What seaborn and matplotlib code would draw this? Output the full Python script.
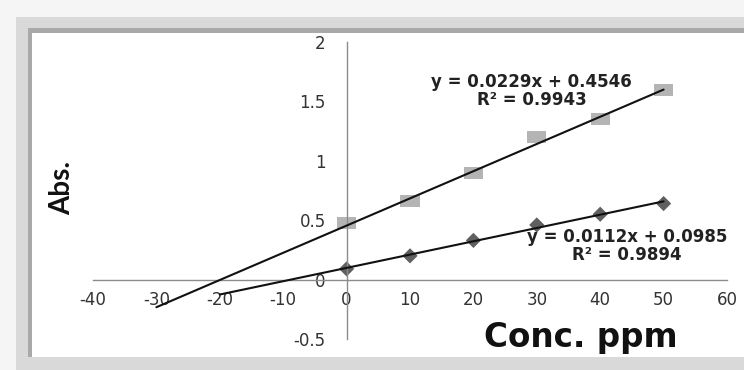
import matplotlib
matplotlib.use("Agg")
import matplotlib.pyplot as plt
from matplotlib.patches import Rectangle, Path
import numpy as np
import pandas as pd
import seaborn as sns

# ---- data ----
conc = [0, 10, 20, 30, 40, 50]
abs_upper = [0.48, 0.66, 0.90, 1.20, 1.35, 1.60]   # square markers
abs_lower = [0.09, 0.20, 0.33, 0.46, 0.55, 0.64]   # diamond markers
slope_upper, icpt_upper = 0.0229, 0.4546
slope_lower, icpt_lower = 0.0112, 0.0985
trend_upper_x = [-30, 50]
trend_lower_x = [-20, 50]
eq_upper = ["y = 0.0229x + 0.4546", "R² = 0.9943"]
eq_lower = ["y = 0.0112x + 0.0985", "R² = 0.9894"]
xticks = [-40, -30, -20, -10, 0, 10, 20, 30, 40, 50, 60]
yticks = [-0.5, 0, 0.5, 1, 1.5, 2]
ytick_labels = ["-0.5", "0", "0.5", "1", "1.5", "2"]

sns.set_style("white")
plt.rcParams["axes.unicode_minus"] = False
plt.rcParams["font.family"] = ["DejaVu Sans"]

W, H = 744, 370
fig = plt.figure(figsize=(W / 100, H / 100), dpi=100)
fig.patch.set_facecolor("#f5f5f5")

def prect(x0, y0, x1, y1, color):
    # pixel coords with origin top-left
    r = Rectangle((x0 / W, 1 - y1 / H), (x1 - x0) / W, (y1 - y0) / H,
                  transform=fig.transFigure, facecolor=color,
                  edgecolor="none", zorder=-10)
    fig.patches.append(r)

prect(16, 17, 744, 370, "#d9d9d9")
prect(28, 28, 744, 357, "#a9a9a9")
prect(32, 33, 744, 357, "white")

ax = fig.add_axes([93 / W, 1 - 339 / H, (727 - 93) / W, (339 - 42) / H])
ax.set_facecolor("none")
ax.set_zorder(5)

df_u = pd.DataFrame({"conc": conc, "abs": abs_upper})
df_l = pd.DataFrame({"conc": conc, "abs": abs_lower})
tu = pd.DataFrame({"x": trend_upper_x,
                   "y": [slope_upper * v + icpt_upper for v in trend_upper_x]})
tl = pd.DataFrame({"x": trend_lower_x,
                   "y": [slope_lower * v + icpt_lower for v in trend_lower_x]})

rect_marker = Path([(-1.6, -1), (1.6, -1), (1.6, 1), (-1.6, 1), (-1.6, -1)],
                   [Path.MOVETO, Path.LINETO, Path.LINETO, Path.LINETO, Path.CLOSEPOLY])

sns.scatterplot(data=df_u, x="conc", y="abs", ax=ax, marker=rect_marker, s=190,
                color="#b4b4b4", edgecolor="none", zorder=2)
sns.scatterplot(data=df_l, x="conc", y="abs", ax=ax, marker="D", s=60,
                color="#606060", edgecolor="none", zorder=2)
sns.lineplot(data=tu, x="x", y="y", ax=ax, color="#111111", lw=1.5, zorder=3)
sns.lineplot(data=tl, x="x", y="y", ax=ax, color="#111111", lw=1.5, zorder=3)

ax.set_xlim(-40, 60)
ax.set_ylim(-0.5, 2)
ax.set_xticks(xticks)
ax.set_xticklabels([str(v) for v in xticks])
ax.set_yticks(yticks)
ax.set_yticklabels(ytick_labels)

for s in ["top", "right"]:
    ax.spines[s].set_visible(False)
ax.spines["left"].set_position(("data", 0))
ax.spines["bottom"].set_position(("data", 0))
for s in ["left", "bottom"]:
    ax.spines[s].set_color("#8c8c8c")
    ax.spines[s].set_linewidth(1.0)

ax.tick_params(axis="x", direction="inout", length=6, width=1, color="#8c8c8c",
               pad=5, labelsize=12, labelcolor="#333333")
ax.tick_params(axis="y", direction="out", length=6, width=1, color="#8c8c8c",
               pad=9, labelsize=12, labelcolor="#333333")
ax.set_xlabel("")
ax.set_ylabel("")

eq_kw = dict(ha="center", va="center", fontsize=12, fontweight="bold",
             color="#222222", zorder=4)
ax.text(29.2, 1.663, eq_upper[0], **eq_kw)
ax.text(29.2, 1.511, eq_upper[1], **eq_kw)
ax.text(44.2, 0.359, eq_lower[0], **eq_kw)
ax.text(44.2, 0.205, eq_lower[1], **eq_kw)

fig.text(581 / W, 1 - 347 / H, "Conc. ppm", ha="center", va="baseline",
         fontsize=23.5, fontweight="bold", color="#111111")
fig.text(62 / W, 1 - 188 / H, "Abs.", ha="center", va="center", rotation=90,
         fontsize=20, fontweight="bold", color="#111111", family=["Lato", "DejaVu Sans"])

fig.savefig("out.png", dpi=100, facecolor=fig.get_facecolor())
